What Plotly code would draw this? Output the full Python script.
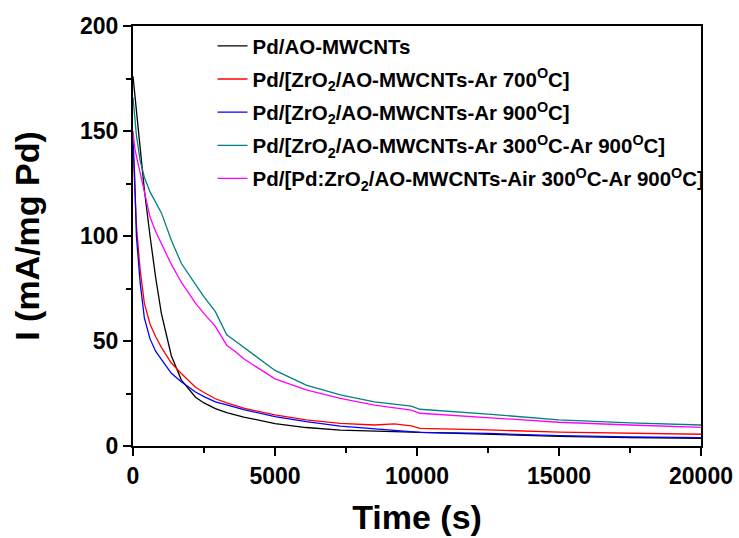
import plotly.graph_objects as go

time_s = [0, 60, 120, 250, 400, 600, 800, 1000, 1350, 1700, 2200, 2500, 2900, 3300, 3600, 3900,
          5000, 6100, 7300, 8500, 9200, 9800, 10100, 12500, 15000, 17500, 20000]

pd_ao = [176, 168, 160, 143, 122, 100, 80, 63, 43, 31.5, 23.2, 20.5, 17.8, 15.9, 14.8, 13.8,
         10.7, 8.8, 7.6, 7.1, 6.9, 6.7, 6.3, 5.6, 4.6, 4.0, 3.7]
zr_ar700 = [143, 120, 105, 84, 68, 58, 52, 47, 39.5, 34.5, 28, 25.5, 22.5, 20.5, 19.3, 18,
            14.8, 12.4, 10.8, 10, 10.5, 9.6, 8.4, 7.7, 6.6, 6.0, 5.6]
zr_ar900 = [147, 128, 100, 78, 61, 51, 45, 41, 34.6, 30.6, 25.7, 23.5, 21, 19.6, 18.5, 17.3,
            14, 11.6, 9.5, 8.3, 7.7, 7.1, 6.5, 6.0, 4.9, 4.3, 4.0]
zr_ar300_900 = [166, 155, 148, 136, 128, 121, 116, 111, 98, 87, 77, 71, 64, 53, 50, 47,
                36, 29, 24.3, 21, 20, 19, 17.5, 15.2, 12.4, 11, 10]
pdzr_air300_900 = [150, 142, 138, 130, 122, 109, 102, 96.5, 86.5, 78, 68, 63, 57, 48, 45, 41.5,
                   32, 26.7, 22.7, 19.5, 18.2, 17.1, 15.6, 13.6, 11.3, 10, 8.9]

x_ticks = [0, 5000, 10000, 15000, 20000]
x_tick_labels = ["0", "5000", "10000", "15000", "20000"]
y_ticks = [0, 50, 100, 150, 200]
y_tick_labels = ["0", "50", "100", "150", "200"]

names = [
    "Pd/AO-MWCNTs",
    "Pd/[ZrO<sub>2</sub>/AO-MWCNTs-Ar 700<sup>O</sup>C]",
    "Pd/[ZrO<sub>2</sub>/AO-MWCNTs-Ar 900<sup>O</sup>C]",
    "Pd/[ZrO<sub>2</sub>/AO-MWCNTs-Ar 300<sup>O</sup>C-Ar 900<sup>O</sup>C]",
    "Pd/[Pd:ZrO<sub>2</sub>/AO-MWCNTs-Air 300<sup>O</sup>C-Ar 900<sup>O</sup>C]",
]
series = [pd_ao, zr_ar700, zr_ar900, zr_ar300_900, pdzr_air300_900]
colors = ["#000000", "#FF0000", "#0000FF", "#008080", "#FF00FF"]

fig = go.Figure()
for i, (n, s, c) in enumerate(zip(names, series, colors)):
    fig.add_trace(go.Scatter(x=time_s, y=s, name=n, mode="lines", legendgroup=f"g{i}",
                             line=dict(color=c, width=1.3)))

font_fam = "Liberation Sans, Arial, sans-serif"
axis_common = dict(
    showline=True, linewidth=2, linecolor="black", mirror=True,
    ticks="outside", ticklen=8, tickwidth=2, tickcolor="black",
    showgrid=False, zeroline=False, automargin=False,
    tickfont=dict(family=font_fam, size=23, color="black", weight="bold"),
)
fig.update_xaxes(range=[0, 20000], tickvals=x_ticks, ticktext=x_tick_labels,
                 minor=dict(ticks="outside", ticklen=5, tickwidth=2, dtick=2500, tickcolor="black"),
                 title=dict(text="Time (s)", standoff=18,
                            font=dict(family=font_fam, size=34, color="black", weight="bold")),
                 **axis_common)
fig.update_yaxes(range=[0, 200], tickvals=y_ticks, ticktext=y_tick_labels,
                 minor=dict(ticks="outside", ticklen=5, tickwidth=2, dtick=25, tickcolor="black"),
                 title=dict(text="I (mA/mg Pd)", standoff=30,
                            font=dict(family=font_fam, size=34, color="black", weight="bold")),
                 **axis_common)

fig.update_layout(
    width=739, height=538,
    margin=dict(l=133, r=38, t=26, b=92),
    paper_bgcolor="white", plot_bgcolor="white",
    showlegend=True,
    legend=dict(x=0.14, y=1.0, xanchor="left", yanchor="top",
                bgcolor="rgba(0,0,0,0)", borderwidth=0,
                font=dict(family=font_fam, size=20.5, color="black", weight="bold"),
                tracegroupgap=3.5),
)

fig.write_html("out.html")
